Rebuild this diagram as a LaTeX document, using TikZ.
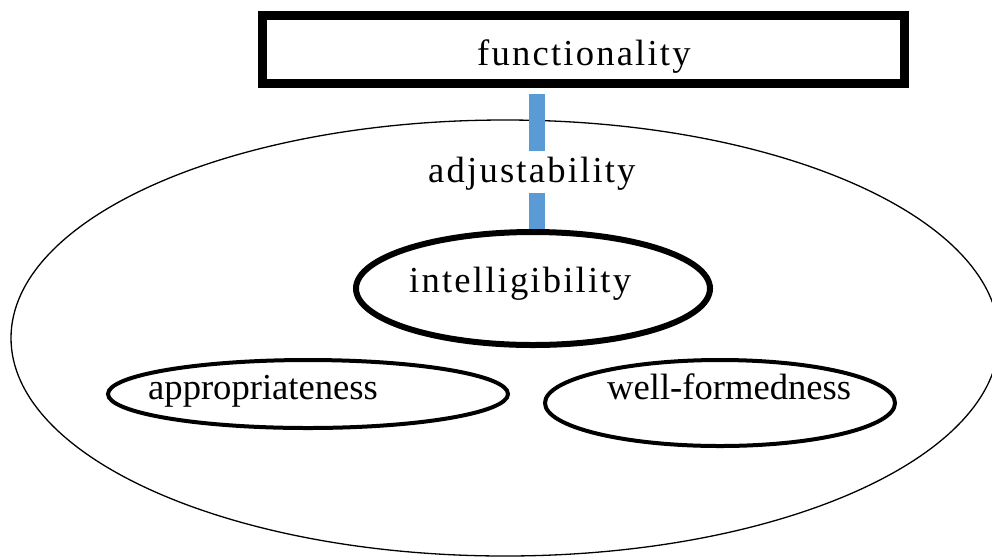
\documentclass[tikz,border=0pt]{standalone}
\usepackage{fontspec}
\setmainfont{Liberation Serif}
\newfontfamily\spacedfont[LetterSpace=6]{Liberation Serif}
\usepackage{tikz}
\usetikzlibrary{shapes.geometric}
\definecolor{barblue}{RGB}{91,155,213}
\tikzstyle{frame} = [rectangle, draw=black, line width=9pt, minimum width=642pt, minimum height=68pt, inner sep=0]
\tikzstyle{bigoval} = [ellipse, draw=black, line width=1.3pt, inner sep=0]
\tikzstyle{oval} = [ellipse, draw=black, line width=4pt, inner sep=0]
\tikzstyle{thickoval} = [ellipse, draw=black, line width=6pt, inner sep=0]
\tikzstyle{word} = [inner sep=0, anchor=base west, font=\fontsize{36.6}{44}\selectfont]
\tikzstyle{spaced} = [inner sep=0, anchor=base west, font=\spacedfont\fontsize{36.6}{44}\selectfont]
\tikzstyle{link} = [draw=barblue, line width=16pt]

\begin{document}
\begin{tikzpicture}[x=1pt, y=-1pt]
\useasboundingbox (0,0) rectangle (992,558);

\node (outer) [bigoval, minimum width=988pt, minimum height=436pt] at (505,338) {};
\node (funct) [frame] at (583.5,49.5) {};
\node (intel) [thickoval, minimum width=354pt, minimum height=113pt] at (533,288.5) {};
\node (appr) [oval, minimum width=400pt, minimum height=68pt] at (308,394) {};
\node (wellf) [oval, minimum width=350pt, minimum height=86pt] at (720,403) {};

\node (functtxt) [spaced] at (477,65) {functionality};
\node (adj) [spaced] at (428,182) {adjustability};
\node (inteltxt) [spaced] at (409,292) {intelligibility};
\node (apprtxt) [word] at (148,399) {appropriateness};
\node (wellftxt) [word] at (607,399) {well-formedness};

\coordinate (axis) at (536.5,0); % x of the blue bars
\draw [link, shorten <=6pt, shorten >=5pt] (funct.south -| axis) -- (adj.north -| axis);
\draw [link, shorten <=3pt] (adj.south -| axis) -- (intel.north -| axis);

\end{tikzpicture}
\end{document}
